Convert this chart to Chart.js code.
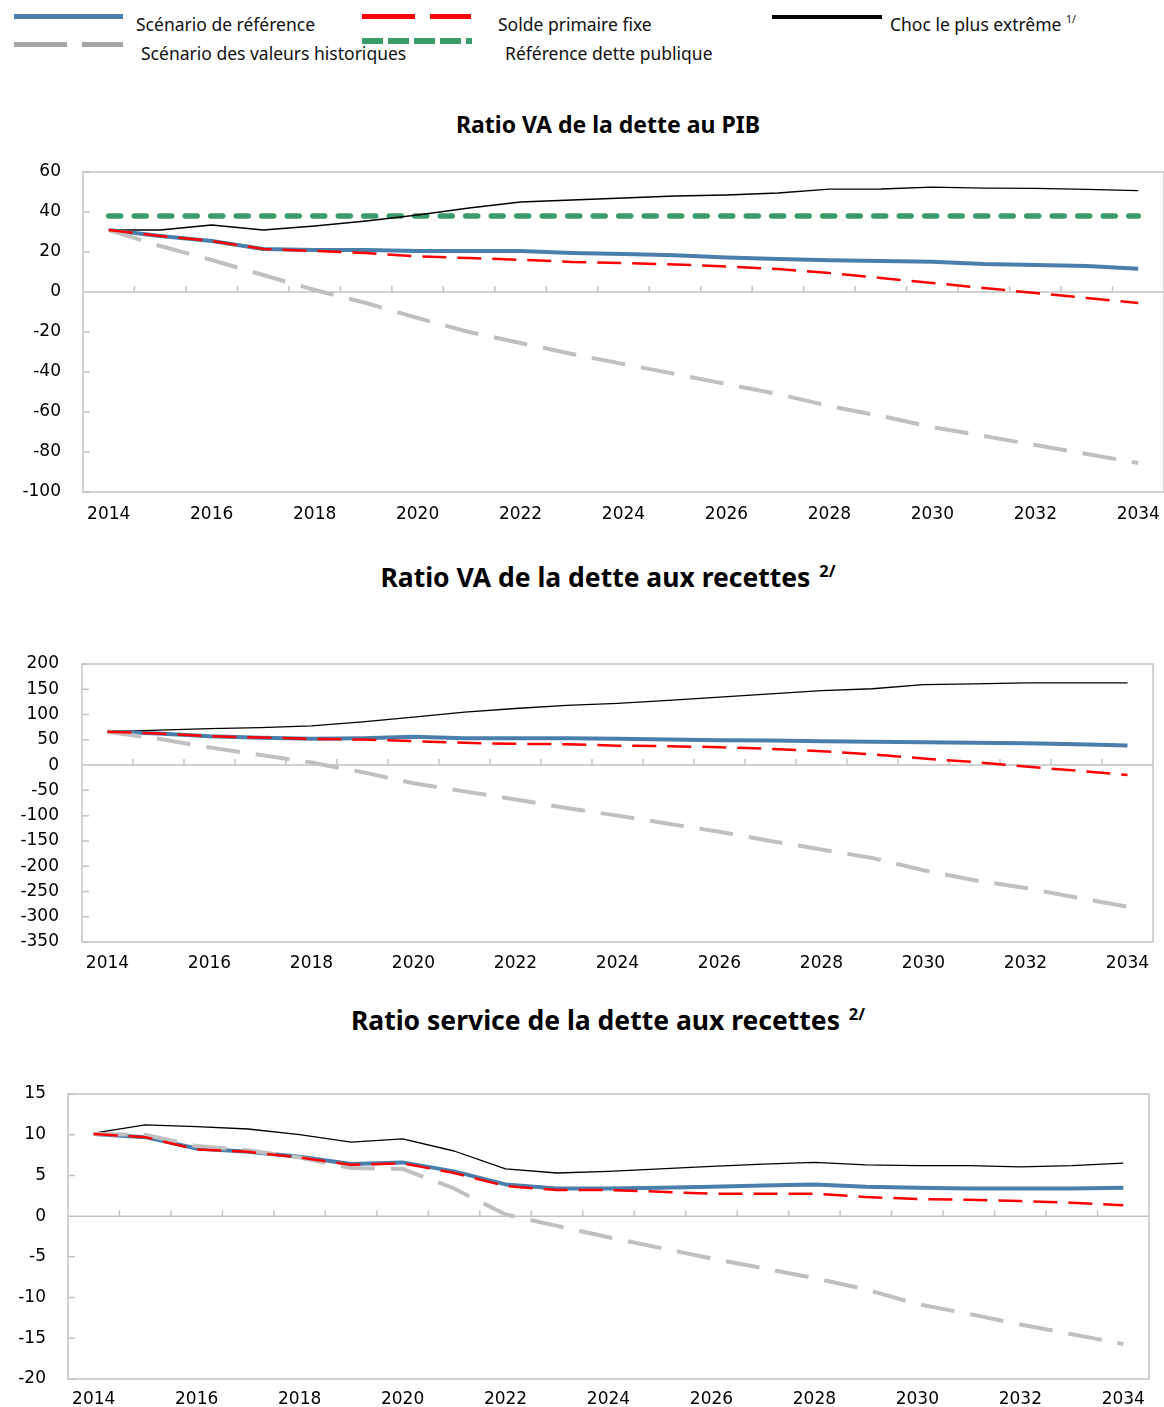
<!DOCTYPE html>
<html>
<head>
<meta charset="utf-8">
<script src="https://cdn.jsdelivr.net/npm/chart.js@4.4.1/dist/chart.umd.min.js"></script>
<style>
  body { margin: 0; background: #fff; width: 1164px; height: 1407px; overflow: hidden; position: relative; font-family: "Noto Sans", sans-serif; }
  .abs { position: absolute; }
  .lg { position: absolute; font-size: 17.5px; line-height: 20px; color: #111; white-space: nowrap; }
  .title { position: absolute; left: 0; width: 1216px; text-align: center; font-weight: bold; color: #000; white-space: nowrap; }
  .lg sup { font-size: 0.6em; vertical-align: top; position: relative; top: -5px; }
  .title sup { font-size: 0.62em; vertical-align: top; position: relative; top: -6px; margin-left: 2px; }
  canvas { position: absolute; left: 0; }
</style>
</head>
<body>
<!-- legend -->
<div class="abs" style="left:14px;top:14px;width:109px;height:5px;background:#4a7fac"></div>
<div class="abs" style="left:362px;top:14px;width:109px;height:5px;background:linear-gradient(to right,#ff0000 0 53px,transparent 53px 68px,#ff0000 68px 109px)"></div>
<div class="abs" style="left:772px;top:15px;width:110px;height:4px;background:#000"></div>
<div class="abs" style="left:14px;top:42px;width:109px;height:5px;background:linear-gradient(to right,#a6a6a6 0 53px,transparent 53px 68px,#a6a6a6 68px 109px)"></div>
<div class="abs" style="left:362px;top:38px;width:110px;height:6px;background:repeating-linear-gradient(to right,#3a9b6b 0 21px,transparent 21px 26px)"></div>
<div class="lg" style="left:136px;top:14px">Scénario de référence</div>
<div class="lg" style="left:498px;top:14px">Solde primaire fixe</div>
<div class="lg" style="left:890px;top:14px">Choc le plus extrême <sup>1/</sup></div>
<div class="lg" style="left:141px;top:43px">Scénario des valeurs historiques</div>
<div class="lg" style="left:505px;top:43px">Référence dette publique</div>

<div class="title" style="top:109px;font-size:23px;line-height:30px">Ratio VA de la dette au PIB</div>
<div class="title" style="top:559px;font-size:26.5px;line-height:36px">Ratio VA de la dette aux recettes <sup>2/</sup></div>
<div class="title" style="top:1002px;font-size:26.5px;line-height:36px">Ratio service de la dette aux recettes <sup>2/</sup></div>

<canvas id="c1" width="1164" height="370" style="top:160px"></canvas>
<canvas id="c2" width="1164" height="340" style="top:640px"></canvas>
<canvas id="c3" width="1164" height="337" style="top:1070px"></canvas>

<script>
const years = ['2014','2015','2016','2017','2018','2019','2020','2021','2022','2023','2024',
               '2025','2026','2027','2028','2029','2030','2031','2032','2033','2034'];

// Ratio VA de la dette au PIB
const pibBase = [31, 28, 25.5, 21.5, 21, 21, 20.5, 20.5, 20.5, 19.5, 19, 18.4, 17.3, 16.5, 15.9, 15.5, 15.1, 14, 13.5, 13, 11.6];
const pibHist = [31, 23, 16, 8.5, 1, -5.5, -13, -20, -25.5, -31, -36, -41, -46, -51, -57, -62, -67.5, -72, -76.5, -81, -85.5];
const pibFixed = [31, 28, 25.5, 21.5, 20.5, 19.5, 17.8, 17, 16.1, 15, 14.5, 13.8, 12.8, 11.5, 9.5, 7, 4.5, 2, -0.5, -3, -5.5];
const pibShock = [31, 31, 33.5, 31, 33, 35.5, 38.5, 42, 45, 46, 47, 48, 48.5, 49.5, 51.4, 51.5, 52.4, 51.9, 51.8, 51.3, 50.7];
const pibThreshold = [38, 38, 38, 38, 38, 38, 38, 38, 38, 38, 38, 38, 38, 38, 38, 38, 38, 38, 38, 38, 38];

// Ratio VA de la dette aux recettes
const recBase = [66, 62.5, 57, 54, 52, 53, 56, 53, 53, 53, 52, 50.5, 49, 48.5, 47, 46, 45, 44, 43, 41, 38.7];
const recHist = [66, 52, 35, 20, 5, -14, -36, -52, -68, -85, -100, -116, -132, -150, -167, -184, -208, -228, -243, -262, -280];
const recFixed = [66, 62.5, 57, 54.5, 52, 50.5, 47.4, 44, 42, 41.4, 38.5, 37.4, 35.4, 32, 27.5, 21, 13, 6, -3, -11, -19.7];
const recShock = [66, 69, 72, 74, 77.6, 85.5, 95, 104.6, 112, 118, 122, 128, 134.4, 141, 147.5, 151, 159, 160.6, 162.6, 162.6, 162.6];

// Ratio service de la dette aux recettes
const servBase = [10.1, 9.7, 8.3, 7.9, 7.3, 6.4, 6.6, 5.5, 3.9, 3.4, 3.4, 3.5, 3.6, 3.75, 3.9, 3.6, 3.5, 3.4, 3.4, 3.4, 3.5];
const servHist = [10.1, 10, 8.6, 8.1, 7.2, 5.9, 5.8, 3.4, 0.2, -1.2, -2.6, -3.9, -5.2, -6.4, -7.6, -9.0, -10.8, -12.0, -13.3, -14.5, -15.7];
const servFixed = [10.1, 9.7, 8.2, 7.9, 7.2, 6.3, 6.5, 5.3, 3.7, 3.2, 3.2, 3.0, 2.75, 2.75, 2.75, 2.35, 2.1, 2.0, 1.85, 1.65, 1.35];
const servShock = [10.2, 11.2, 11, 10.7, 10, 9.1, 9.5, 8, 5.8, 5.3, 5.5, 5.8, 6.1, 6.4, 6.6, 6.3, 6.2, 6.2, 6.05, 6.2, 6.5];

const tickFont = { family: 'DejaVu Sans', size: 17 };

// plot frame, zero axis with tick marks, inner y tick marks
const frame = {
  id: 'frame',
  beforeDatasetsDraw(chart) {
    const { ctx, chartArea: a, scales: { x, y } } = chart;
    ctx.save();
    ctx.strokeStyle = '#c4c4c4';
    ctx.lineWidth = 1.5;
    ctx.strokeRect(a.left, a.top, a.right - a.left, a.bottom - a.top);
    ctx.beginPath();
    const y0 = y.getPixelForValue(0);
    ctx.moveTo(a.left, y0);
    ctx.lineTo(a.right, y0);
    for (let i = 1; i < chart.data.labels.length; i++) {
      const px = (x.getPixelForValue(i - 1) + x.getPixelForValue(i)) / 2;
      ctx.moveTo(px, y0);
      ctx.lineTo(px, y0 - 6);
    }
    y.ticks.forEach(t => {
      const py = y.getPixelForValue(t.value);
      ctx.moveTo(a.left, py);
      ctx.lineTo(a.left + 7, py);
    });
    ctx.stroke();
    ctx.restore();
  }
};

function sets(base, hist, fixed, shock, threshold) {
  const ds = [
    { data: fixed, borderColor: '#ff0000', borderWidth: 2.5, borderDash: [24, 11] },
    { data: hist, borderColor: '#c0c0c0', borderWidth: 4, borderDash: [34, 16] },
    { data: base, borderColor: '#4a7fac', borderWidth: 4 },
    { data: shock, borderColor: '#000000', borderWidth: 1.3 }
  ];
  if (threshold) {
    ds.push({ data: threshold, borderColor: '#3a9b6b', borderWidth: 5.5, borderDash: [12, 13.5], borderCapStyle: 'round' });
  }
  return ds;
}

// invisible tick marks give the label gap without inflating the layout padding
function gap(len) {
  return { display: true, drawOnChartArea: false, drawTicks: true, tickLength: len, color: 'rgba(0,0,0,0)' };
}

function makeChart(id, datasets, yMin, yMax, step, left, right, top, xHeight, xPad, yPad) {
  return new Chart(document.getElementById(id), {
    type: 'line',
    data: { labels: years, datasets: datasets },
    options: {
      responsive: false,
      animation: false,
      layout: { padding: { top: top, right: right, left: 0, bottom: 0 } },
      elements: { point: { radius: 0 }, line: { tension: 0, borderJoinStyle: 'round', fill: false } },
      plugins: { legend: { display: false }, tooltip: { enabled: false } },
      scales: {
        x: {
          offset: true,
          grid: gap(xPad),
          border: { display: false },
          ticks: {
            autoSkip: false, maxRotation: 0, padding: 0, color: '#000', font: tickFont,
            callback: (v, i) => (i % 2 === 0 ? years[i] : '')
          },
          afterFit: s => { s.height = xHeight; }
        },
        y: {
          min: yMin, max: yMax,
          grid: gap(yPad),
          border: { display: false },
          ticks: { stepSize: step, padding: 0, color: '#000', font: tickFont },
          afterFit: s => { s.width = left; }
        }
      }
    },
    plugins: [frame]
  });
}

makeChart('c1', sets(pibBase, pibHist, pibFixed, pibShock, pibThreshold), -100, 60, 20, 83, 0, 12, 38, 12, 22);
makeChart('c2', sets(recBase, recHist, recFixed, recShock, null), -350, 200, 50, 82, 11, 24, 38, 11, 23);
makeChart('c3', sets(servBase, servHist, servFixed, servShock, null), -20, 15, 5, 68, 15, 24, 28, 10, 22);
</script>
</body>
</html>
